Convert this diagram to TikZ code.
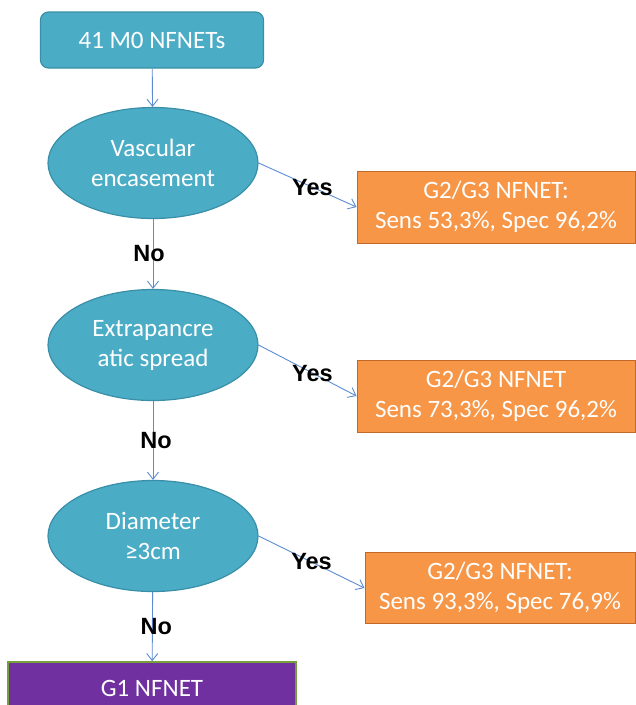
\documentclass[tikz,border=0pt]{standalone}
\usepackage{fontspec}
\setmainfont{Carlito}
\newfontfamily\lblfont{Liberation Sans}
\usetikzlibrary{shapes.geometric,arrows.meta}
\definecolor{aqua}{HTML}{4BACC6}
\definecolor{aquaedge}{HTML}{3A8FA8}
\definecolor{orng}{HTML}{F79646}
\definecolor{orngedge}{HTML}{C0692A}
\definecolor{purp}{HTML}{7030A0}
\definecolor{olive}{HTML}{77A03C}
\definecolor{arrowblue}{HTML}{5B8BD0}
\begin{document}
\begin{tikzpicture}[x=1pt,y=-1pt,
  txt/.style={text=white,font=\fontsize{25}{30}\selectfont,align=center,inner sep=0pt},
  startbox/.style={txt,draw=aquaedge,fill=aqua,line width=1.2pt,rounded corners=8pt,minimum width=223pt,minimum height=56pt},
  question/.style={txt,ellipse,draw=aquaedge,fill=aqua,line width=1.2pt,minimum width=210pt,minimum height=111pt},
  result/.style={txt,draw=orngedge,fill=orng,line width=1pt,minimum width=278pt,minimum height=72pt},
  final/.style={txt,draw=olive,fill=purp,line width=1.5pt,minimum width=288pt,minimum height=52pt},
  flow/.style={draw=arrowblue,line width=0.9pt,-{Straight Barb[length=7pt,width=11pt]}},
  lbl/.style={font=\lblfont\bfseries\fontsize{23.5}{26}\selectfont,inner sep=0pt}]
\useasboundingbox (0,0) rectangle (636,705);
\clip (0,0) rectangle (636,705);
% question ellipses down the left
\node[startbox] (start) at (152,40) {41 M0 NFNETs};
\node[question] (vasc) at (153,163) {Vascular\\encasement};
\node[question] (spread) at (153,345) {Extrapancre\\atic spread};
\node[question] (diam) at (153,536) {Diameter\\≥3cm};
\node[final] (g1) at (152,688) {G1 NFNET};
% results on the right
\node[result] (res1) at (496,207) {G2/G3 NFNET:\\Sens 53,3\%, Spec 96,2\%};
\node[result] (res2) at (496,396) {G2/G3 NFNET\\Sens 73,3\%, Spec 96,2\%};
\node[result,minimum width=270pt,minimum height=71pt] (res3) at (500,588) {G2/G3 NFNET:\\Sens 93,3\%, Spec 76,9\%};
% connectors
\draw[flow] (start) -- (vasc);
\draw[flow] (vasc) -- node[lbl,xshift=-4pt] {No} (spread);
\draw[flow] (spread) -- node[lbl,xshift=3pt] {No} (diam);
\draw[flow] (diam) -- node[lbl,xshift=4pt] {No} (g1);
\draw[flow] (vasc.east) -- node[lbl,pos=0.55] {Yes} (res1.west);
\draw[flow] (spread.east) -- node[lbl,pos=0.55] {Yes} (res2.west);
\draw[flow] (diam.east) -- node[lbl,pos=0.5] {Yes} (res3.west);
\end{tikzpicture}
\end{document}
